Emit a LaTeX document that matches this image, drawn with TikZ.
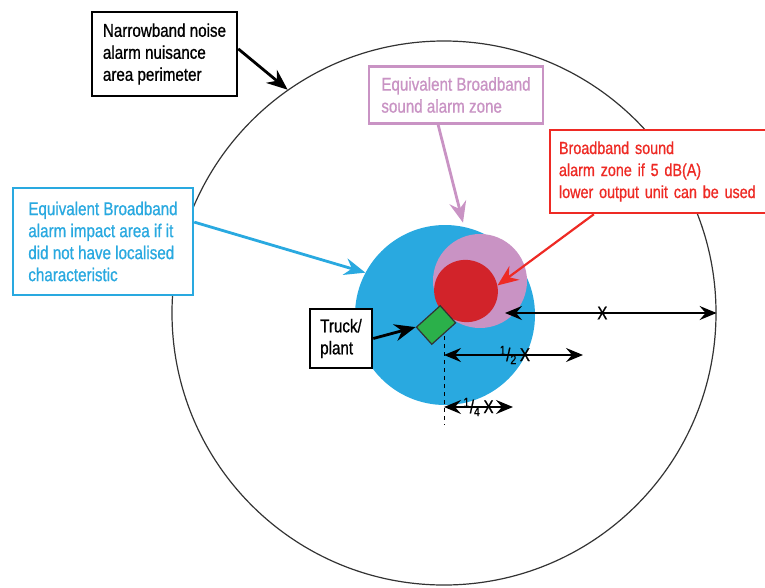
\documentclass[tikz,border=0pt]{standalone}
\usepackage{fontspec}
\setmainfont{Liberation Sans}[FakeStretch=0.82, FakeBold=0.8]
\usetikzlibrary{arrows.meta, shapes.geometric}

\definecolor{impactblue}{HTML}{29A9E0}
\definecolor{zonelilac}{HTML}{C993C4}
\definecolor{zonered}{HTML}{D2232A}
\definecolor{textred}{HTML}{EE2A24}
\definecolor{plantgreen}{HTML}{2BB04A}

\begin{document}
\begin{tikzpicture}[
  x=1pt, y=-1pt,
  every node/.style={font=\fontsize{18.5}{22}\selectfont},
  labelbox/.style={
    rectangle, draw, line width=2.5pt, fill=white,
    align=left, inner sep=0pt
  },
  zone/.style={circle, inner sep=0pt},
  pointer/.style={
    -{Stealth[length=21pt, width=17pt, inset=7pt]}, line width=2.8pt
  },
  dim/.style={
    {Stealth[length=17pt, width=14pt, inset=6pt]}-{Stealth[length=17pt, width=14pt, inset=6pt]},
    line width=1.8pt
  }
]

\useasboundingbox (0,0) rectangle (765,587);
\clip (0,0) rectangle (765,587);

% zones
\node[zone, draw=black!80, line width=1.2pt, minimum size=544pt] (perim)   at (444,313) {};
\node[zone, fill=impactblue, minimum size=180pt]                (impact)  at (445,315) {};
\node[zone, fill=zonelilac, minimum size=94pt]                  (sound)   at (480,281) {};
\node[ellipse, fill=zonered, inner sep=0pt,
      minimum width=64pt, minimum height=62pt, rotate=-20]      (lowzone) at (466,291) {};
\node[rectangle, draw=black!80, line width=1.2pt, fill=plantgreen,
      minimum width=32pt, minimum height=23pt, inner sep=0pt,
      rotate=42]                                                (plant)   at (436,325) {};

% dimensions
\coordinate (axtop) at (444,336);
\coordinate (axbot) at (444,425);
\coordinate (xl) at (505,313);
\coordinate (hl) at (444,355);
\coordinate (hr) at (583,355);
\coordinate (ql) at (444,407);
\coordinate (qr) at (513,407);

\draw[dashed, line width=1pt, dash pattern=on 4pt off 4pt] (axtop) -- (axbot);
\draw[dim] (xl) -- node[pos=0.46]{X} (perim.east);
\draw[dim] (hl) -- node[pos=0.51]{\textsuperscript{1}/\textsubscript{2}\,X} (hr);
\draw[dim] (ql) -- node{\textsuperscript{1}/\textsubscript{4}\,X} (qr);

% label boxes
\node[labelbox, minimum width=145pt, minimum height=84pt] (narrow) at (164.5,54)
  {Narrowband noise\\alarm nuisance\\area perimeter};
\node[labelbox, draw=zonelilac, text=zonelilac, minimum width=174pt,
      minimum height=57pt] (soundbox) at (456,95)
  {Equivalent Broadband\\sound alarm zone};
\node[labelbox, draw=textred, text=textred, minimum width=230pt,
      minimum height=83pt, text width=212pt,
      font=\fontsize{17.5}{22}\selectfont] (redbox) at (665,171.5)
  {Broadband sound\\alarm zone if 5 dB(A)\\lower output unit can be used};
\node[labelbox, draw=impactblue, text=impactblue, minimum width=180pt,
      minimum height=107pt] (impactbox) at (103,241.5)
  {Equivalent Broadband\\alarm impact area if it\\did not have localised\\characteristic};
\node[labelbox, minimum width=62pt, minimum height=59pt] (truck) at (341,338.5)
  {Truck/\\plant};

% pointers
\draw[pointer] (narrow.4.7) -- (perim.125.5);
\draw[pointer, draw=zonelilac] (soundbox.239) -- ([shift={(-4,-13)}]sound.106);
\draw[pointer, draw=textred, line width=2.2pt] (redbox.211.4) -- (lowzone.30);
\draw[pointer, draw=impactblue] (impactbox.12) -- (impact.152);
\draw[pointer] (truck.east) -- (plant.north west);

\end{tikzpicture}
\end{document}
